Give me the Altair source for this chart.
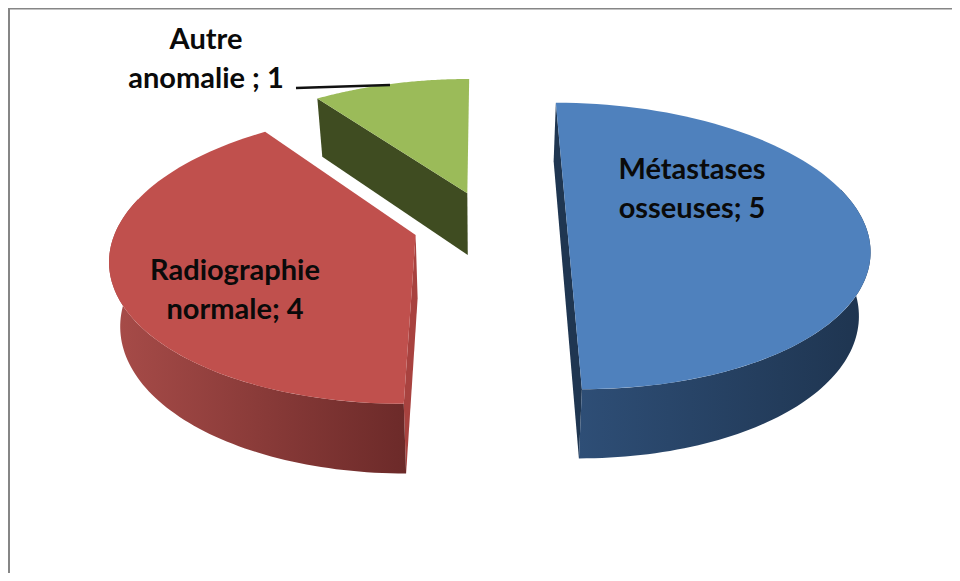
import math
import altair as alt
import pandas as pd

categories = ["Métastases osseuses", "Radiographie normale", "Autre anomalie"]
values = [5, 4, 1]
label_texts = ["Métastases\nosseuses; 5", "Radiographie\nnormale; 4", "Autre\nanomalie ; 1"]
explode = [0.285, 0.24, 0.22]
nudge_u = [0.0, 0.008, 0.017]
nudge_v = [0.0, 0.0, -0.022]
top_colors = ["#4F81BD", "#C0504D", "#9BBB59"]
inner_colors = ["#1F3651", "#A8423F", "#3F4C21"]
wall_left = ["#2E4E76", "#A84C49", "#3F4C21"]
wall_right = ["#1E344F", "#6C2A29", "#3F4C21"]
label_x = [692, 235, 206]
label_y = [170, 271, 40]

X0, Y0, A, B, K, DEPTH, SHRINK = 482, 224.5, 298, 140, 0.15, 63, 0.97
FONT = "Lato"


def project(u, v, low=False):
    w = 1 - K * v
    sx = A * u / w
    sy = B * v / w
    if low:
        return X0 + sx * SHRINK, Y0 + sy * SHRINK + DEPTH / w
    return X0 + sx, Y0 + sy


def rim(u0, v0, t0, t1, low=False, n=80):
    pts = []
    for i in range(n + 1):
        t = math.radians(t0 + (t1 - t0) * i / n)
        pts.append(project(u0 + math.sin(t), v0 - math.cos(t), low))
    return pts


def frame(pts):
    return pd.DataFrame({"i": range(len(pts)), "x": [p[0] for p in pts], "y": [p[1] for p in pts]})


x_scale = alt.Scale(domain=[8, 952], nice=False, zero=False)
y_scale = alt.Scale(domain=[573, 8], nice=False, zero=False)


def poly(pts, fill):
    return (
        alt.Chart(frame(pts))
        .mark_line(fill=fill, strokeWidth=0, stroke="transparent", interpolate="linear")
        .encode(
            x=alt.X("x:Q", scale=x_scale, axis=None),
            y=alt.Y("y:Q", scale=y_scale, axis=None),
            order=alt.Order("i:Q"),
        )
    )


def grad(c0, c1):
    return alt.Gradient(
        gradient="linear", x1=0, x2=1, y1=0, y2=0,
        stops=[alt.GradientStop(color=c0, offset=0), alt.GradientStop(color=c1, offset=1)],
    )


total = sum(values)
layers = []
start = 0.0
spans = []
for val in values:
    spans.append((start, start + 360 * val / total))
    start += 360 * val / total

# draw order: green, red, blue
for k in [2, 1, 0]:
    t0, t1 = spans[k]
    mid = math.radians((t0 + t1) / 2)
    u0 = explode[k] * math.sin(mid) + nudge_u[k]
    v0 = -explode[k] * math.cos(mid) + nudge_v[k]
    apex_hi = project(u0, v0)
    apex_lo = project(u0, v0, True)

    if k == 0:
        a = rim(u0, v0, t0, t0, n=1)[0]
        b = rim(u0, v0, t1, t1, n=1)[0]
        al = rim(u0, v0, t0, t0, True, 1)[0]
        bl = rim(u0, v0, t1, t1, True, 1)[0]
        layers.append(poly([a, b, bl, al], inner_colors[k]))
        hi = rim(u0, v0, 75, t1)
        lo = rim(u0, v0, 75, t1, True)
        layers.append(poly(hi + lo[::-1], grad(wall_left[k], wall_right[k])))
    if k == 1:
        b = rim(u0, v0, t0, t0, n=1)[0]
        bl = rim(u0, v0, t0, t0, True, 1)[0]
        layers.append(poly([apex_hi, b, bl, apex_lo], inner_colors[k]))
        hi = rim(u0, v0, t0, 285)
        lo = rim(u0, v0, t0, 285, True)
        layers.append(poly(hi + lo[::-1], grad(wall_left[k], wall_right[k])))
    if k == 2:
        a = rim(u0, v0, t0, t0, n=1)[0]
        al = rim(u0, v0, t0, t0, True, 1)[0]
        layers.append(poly([a, apex_hi, apex_lo, al], inner_colors[k]))
    layers.append(poly([apex_hi] + rim(u0, v0, t0, t1), top_colors[k]))

labels = pd.DataFrame({"t": label_texts, "x": label_x, "y": label_y})
text = (
    alt.Chart(labels)
    .mark_text(font=FONT, fontSize=29, fontWeight="bold", lineBreak="\n", lineHeight=39, color="#0A0A0A", align="center", baseline="middle")
    .encode(x=alt.X("x:Q", scale=x_scale, axis=None), y=alt.Y("y:Q", scale=y_scale, axis=None), text="t:N")
)

leader = (
    alt.Chart(pd.DataFrame({"x": [296, 390], "y": [88, 85]}))
    .mark_line(color="#111111", strokeWidth=2.5)
    .encode(x=alt.X("x:Q", scale=x_scale, axis=None), y=alt.Y("y:Q", scale=y_scale, axis=None))
)

border_top = (
    alt.Chart(pd.DataFrame({"x": [8], "x2": [952], "y": [8.5]}))
    .mark_rule(color="#868686", strokeWidth=2)
    .encode(x=alt.X("x:Q", scale=x_scale, axis=None), x2="x2:Q", y=alt.Y("y:Q", scale=y_scale, axis=None))
)
border_left = (
    alt.Chart(pd.DataFrame({"x": [9], "y": [8], "y2": [573]}))
    .mark_rule(color="#868686", strokeWidth=2)
    .encode(x=alt.X("x:Q", scale=x_scale, axis=None), y=alt.Y("y:Q", scale=y_scale, axis=None), y2="y2:Q")
)

chart = (
    alt.layer(*layers, leader, text, border_top, border_left)
    .properties(width=944, height=565, padding=0, autosize=alt.AutoSizeParams(type="none"), background="#FFFFFF")
    .configure_view(stroke=None)
)
chart.save("out.html", embed_options={"renderer": "svg", "actions": False})
